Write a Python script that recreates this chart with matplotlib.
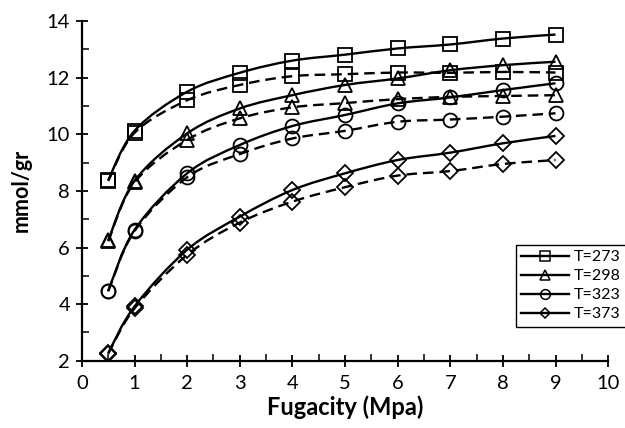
import matplotlib
matplotlib.use("Agg")
import matplotlib.pyplot as plt
from matplotlib.path import Path
from matplotlib.patches import PathPatch
from matplotlib.lines import Line2D
import numpy as np

plt.rcParams['font.family'] = ['Lato', 'DejaVu Sans']

fugacity = [0.5, 1, 2, 3, 4, 5, 6, 7, 8, 9]
labels = ["T=273", "T=298", "T=323", "T=373"]
markers = ["s", "^", "o", "D"]

solid_273 = [8.38, 10.12, 11.50, 12.17, 12.60, 12.81, 13.03, 13.17, 13.38, 13.52]
dashed_273 = [8.35, 10.05, 11.20, 11.74, 12.05, 12.12, 12.18, 12.17, 12.20, 12.18]
solid_298 = [6.25, 8.35, 10.03, 10.91, 11.38, 11.74, 11.97, 12.26, 12.44, 12.56]
dashed_298 = [6.22, 8.30, 9.80, 10.56, 10.95, 11.10, 11.24, 11.32, 11.35, 11.38]
solid_323 = [4.47, 6.62, 8.62, 9.62, 10.29, 10.68, 11.09, 11.30, 11.56, 11.80]
dashed_323 = [4.45, 6.58, 8.48, 9.30, 9.85, 10.12, 10.44, 10.52, 10.62, 10.74]
solid_373 = [2.27, 3.92, 5.92, 7.09, 8.03, 8.62, 9.09, 9.35, 9.68, 9.94]
dashed_373 = [2.25, 3.85, 5.74, 6.88, 7.62, 8.13, 8.54, 8.70, 8.95, 9.09]

solid = [solid_273, solid_298, solid_323, solid_373]
dashed = [dashed_273, dashed_298, dashed_323, dashed_373]


def smooth_path(xs, ys):
    pts = np.column_stack([xs, ys]).astype(float)
    n = len(pts)
    verts = [pts[0]]
    codes = [Path.MOVETO]
    for i in range(n - 1):
        p0 = pts[i - 1] if i > 0 else pts[i]
        p1 = pts[i]
        p2 = pts[i + 1]
        p3 = pts[i + 2] if i + 2 < n else pts[i + 1]
        c1 = p1 + (p2 - p0) / 6.0
        c2 = p2 - (p3 - p1) / 6.0
        verts += [c1, c2, p2]
        codes += [Path.CURVE4] * 3
    return Path(verts, codes)


fig = plt.figure(figsize=(6.25, 4.28), dpi=100)
ax = fig.add_axes([0.131, 0.157, 0.842, 0.794])

lw = 1.7
ms = 10
for k in range(4):
    for ys, ls in ((solid[k], '-'), (dashed[k], (0, (4.5, 2.5)))):
        patch = PathPatch(smooth_path(fugacity, ys), facecolor='none',
                          edgecolor='black', lw=lw, linestyle=ls,
                          transform=ax.transData, zorder=2)
        ax.add_patch(patch)
        m = markers[k]
        size = ms if m != 'D' else ms * 0.8
        ax.plot(fugacity, ys, linestyle='none', marker=m, markersize=size,
                markerfacecolor='none', markeredgecolor='black',
                markeredgewidth=1.3, zorder=3)

ax.set_xlim(0, 10)
ax.set_ylim(2, 14)
ax.set_xticks(range(0, 11))
ax.set_yticks(range(2, 15, 2))
ax.set_xticks(np.arange(0.5, 10, 1), minor=True)
ax.set_yticks(range(3, 14, 2), minor=True)
for s in ('top', 'right'):
    ax.spines[s].set_visible(False)
for s in ('left', 'bottom'):
    ax.spines[s].set_linewidth(1.6)
ax.tick_params(which='major', direction='inout', length=9, width=1.3,
               labelsize=14.5)
ax.tick_params(axis='x', which='major', pad=6)
ax.tick_params(axis='y', which='major', pad=4)
ax.tick_params(which='minor', direction='in', length=5, width=1.1)

ax.set_xlabel("Fugacity (Mpa)", fontsize=17, fontweight='bold', labelpad=2)
ax.set_ylabel("mmol/gr", fontsize=15.5, fontweight='bold', labelpad=11)

handles = []
for k in range(4):
    m = markers[k]
    size = 7 if m != 'D' else 5.5
    handles.append(Line2D([], [], color='black', lw=lw, marker=m, markersize=size,
                          markerfacecolor='none', markeredgecolor='black',
                          markeredgewidth=1.1))
leg = ax.legend(handles, labels, loc='lower right',
                bbox_to_anchor=(1.035, 0.1), fontsize=11.5, frameon=True,
                fancybox=False, edgecolor='black', framealpha=1,
                handlelength=3.0, handletextpad=0.3, borderpad=0.35,
                labelspacing=0.3, borderaxespad=0)
leg.get_frame().set_linewidth(1.0)

fig.savefig("out.png", dpi=100)
